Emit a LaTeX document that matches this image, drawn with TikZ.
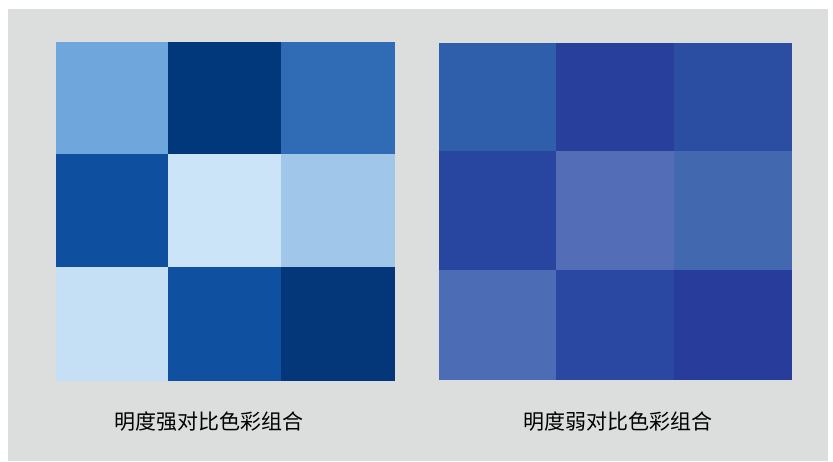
\documentclass[tikz,border=0pt]{standalone}
\usepackage{fontspec}
\newfontfamily\cjk{Noto Sans CJK SC}
\usepackage{xcolor}
\usepackage{tikz}
\usetikzlibrary{positioning}

\definecolor{panelgray}{HTML}{DCDEDD}
% strong contrast colours
\definecolor{sa}{HTML}{6FA7DC}
\definecolor{sb}{HTML}{00387B}
\definecolor{sc}{HTML}{2F6CB5}
\definecolor{sd}{HTML}{0F4F9F}
\definecolor{se}{HTML}{CCE4F7}
\definecolor{sf}{HTML}{A0C6EA}
\definecolor{sg}{HTML}{C5E0F5}
\definecolor{sh}{HTML}{0F50A0}
\definecolor{si}{HTML}{04367A}
% weak contrast colours
\definecolor{wa}{HTML}{2F5EAB}
\definecolor{wb}{HTML}{283F9C}
\definecolor{wc}{HTML}{2B4EA3}
\definecolor{wd}{HTML}{2845A0}
\definecolor{we}{HTML}{536DB6}
\definecolor{wf}{HTML}{4268B0}
\definecolor{wg}{HTML}{4C6DB5}
\definecolor{wh}{HTML}{2A48A2}
\definecolor{wi}{HTML}{283D9B}

\tikzset{caption/.style={font=\cjk\fontsize{21}{24}\selectfont, text=black, inner sep=0pt}}

\begin{document}
\begin{tikzpicture}[x=1pt, y=-1pt]
        \useasboundingbox[fill=white] (0,0) rectangle (833,461);
        \fill[panelgray] (8,9) rectangle (828,461);
        % left grid
        \foreach \xa/\xb/\ya/\yb/\c in {56/168/42/154/sa, 168/281/42/154/sb, 281/395/42/154/sc,
                                        56/168/154/267/sd, 168/281/154/267/se, 281/395/154/267/sf,
                                        56/168/267/381/sg, 168/281/267/381/sh, 281/395/267/381/si}
          \fill[\c] (\xa,\ya) rectangle (\xb,\yb);
        % right grid
        \foreach \xa/\xb/\ya/\yb/\c in {439/556/43/151/wa, 556/674/43/151/wb, 674/792/43/151/wc,
                                        439/556/151/270/wd, 556/674/151/270/we, 674/792/151/270/wf,
                                        439/556/270/380/wg, 556/674/270/380/wh, 674/792/270/380/wi}
          \fill[\c] (\xa,\ya) rectangle (\xb,\yb);
        \node[caption] (strong) at (209,422) {明度强对比色彩组合};
        \node[caption] (weak) at (618,422) {明度弱对比色彩组合};
      \end{tikzpicture}
\end{document}
